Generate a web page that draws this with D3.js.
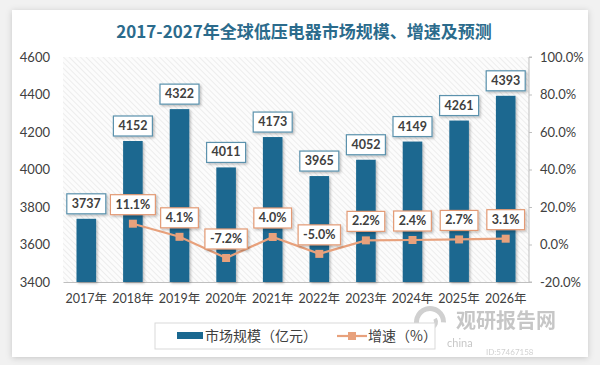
<!DOCTYPE html>
<html>
<head>
<meta charset="utf-8">
<script src="https://cdn.jsdelivr.net/npm/d3@7"></script>
<style>
  body { margin: 0; background: #f1f1f1; }
  svg { display: block; }
  text { font-family: Lato, "Noto Sans CJK SC", sans-serif; }
</style>
</head>
<body>
<div id="chart"></div>
<script>
const width = 600;
const height = 365;

// data
const years = ["2017年", "2018年", "2019年", "2020年", "2021年", "2022年", "2023年", "2024年", "2025年", "2026年"];
const market = [3737, 4152, 4322, 4011, 4173, 3965, 4052, 4149, 4261, 4393];
const growth = [null, 11.1, 4.1, -7.2, 4.0, -5.0, 2.2, 2.4, 2.7, 3.1];
const leftTicks = [3400, 3600, 3800, 4000, 4200, 4400, 4600];
const rightTicks = [-20, 0, 20, 40, 60, 80, 100];

const barColor = "#1a6890";
const lineColor = "#e8a17c";

const plot = { left: 63, right: 529, top: 57, bottom: 282 };

const svg = d3.select("#chart").append("svg")
    .attr("width", width)
    .attr("height", height);

const defs = svg.append("defs");

const pat = defs.append("pattern")
    .attr("id", "hatch")
    .attr("patternUnits", "userSpaceOnUse")
    .attr("width", 4)
    .attr("height", 4)
    .attr("patternTransform", "rotate(-45)");
pat.append("rect").attr("width", 4).attr("height", 4).attr("fill", "#fcfcfc");
pat.append("line")
    .attr("x1", 0).attr("y1", 0).attr("x2", 0).attr("y2", 4)
    .attr("stroke", "#e6e6e6").attr("stroke-width", 1.3);

const shadow = defs.append("filter").attr("id", "shadow")
    .attr("x", "-20%").attr("y", "-20%").attr("width", "140%").attr("height", "140%");
shadow.append("feDropShadow")
    .attr("dx", 1.5).attr("dy", 1.5).attr("stdDeviation", 1)
    .attr("flood-color", "#000").attr("flood-opacity", 0.25);

const cardShadow = defs.append("filter").attr("id", "cardShadow")
    .attr("x", "-5%").attr("y", "-5%").attr("width", "110%").attr("height", "110%");
cardShadow.append("feDropShadow")
    .attr("dx", 0).attr("dy", 1).attr("stdDeviation", 3)
    .attr("flood-color", "#000").attr("flood-opacity", 0.18);

// card
svg.append("rect")
    .attr("x", 12).attr("y", 10)
    .attr("width", 576).attr("height", 347)
    .attr("fill", "#fff")
    .attr("filter", "url(#cardShadow)");

// title
svg.append("text")
    .attr("x", 304).attr("y", 38)
    .attr("text-anchor", "middle")
    .attr("font-size", 17)
    .attr("font-weight", "bold")
    .attr("fill", "#2b6b8c")
    .style("font-family", "'Noto Sans CJK SC', sans-serif")
    .text("2017-2027年全球低压电器市场规模、增速及预测");

// plot background
svg.append("rect")
    .attr("x", plot.left).attr("y", plot.top)
    .attr("width", plot.right - plot.left).attr("height", plot.bottom - plot.top)
    .attr("fill", "url(#hatch)");

const x = d3.scaleBand()
    .domain(years)
    .range([plot.left, plot.right])
    .paddingInner(0.58)
    .paddingOuter(0.29);

const y = d3.scaleLinear()
    .domain([3400, 4600])
    .range([plot.bottom, plot.top]);

const y2 = d3.scaleLinear()
    .domain([-20, 100])
    .range([plot.bottom, plot.top]);

// left axis
const leftAxis = svg.append("g")
    .attr("transform", `translate(${plot.left},0)`)
    .call(d3.axisLeft(y).tickValues(leftTicks).tickSize(0).tickPadding(13)
        .tickFormat(d3.format("d")));
leftAxis.select(".domain").remove();
leftAxis.selectAll("text").attr("font-size", 13).attr("fill", "#404040")
    .style("font-family", "Lato, sans-serif");

// right axis
const rightAxis = svg.append("g")
    .attr("transform", `translate(${plot.right},0)`)
    .call(d3.axisRight(y2).tickValues(rightTicks).tickSize(3).tickPadding(8)
        .tickFormat(d => d.toFixed(1) + "%"));
rightAxis.select(".domain").attr("stroke", "#bfbfbf").attr("d", `M3,${plot.top}H0V${plot.bottom}H3`);
rightAxis.selectAll(".tick line").attr("stroke", "#bfbfbf");
rightAxis.selectAll("text").attr("font-size", 13).attr("fill", "#404040")
    .style("font-family", "Lato, sans-serif");

// bottom axis
const bottomAxis = svg.append("g")
    .attr("transform", `translate(0,${plot.bottom})`)
    .call(d3.axisBottom(x).tickSize(0).tickPadding(12));
bottomAxis.select(".domain").attr("stroke", "#bfbfbf");
bottomAxis.selectAll("text").attr("font-size", 12.5).attr("fill", "#404040");

// bars
svg.append("g").selectAll("rect")
    .data(market)
    .join("rect")
    .attr("x", (d, i) => x(years[i]))
    .attr("y", d => y(d))
    .attr("width", x.bandwidth())
    .attr("height", d => plot.bottom - y(d))
    .attr("fill", barColor)
    .attr("filter", "url(#shadow)");

// growth line
const pts = growth.map((d, i) => ({ year: years[i], v: d })).filter(d => d.v !== null);
const cx = d => x(d.year) + x.bandwidth() / 2;

svg.append("path")
    .datum(pts)
    .attr("fill", "none")
    .attr("stroke", lineColor)
    .attr("stroke-width", 2.2)
    .attr("d", d3.line().x(cx).y(d => y2(d.v)));

svg.append("g").selectAll("rect")
    .data(pts)
    .join("rect")
    .attr("x", d => cx(d) - 4)
    .attr("y", d => y2(d.v) - 4)
    .attr("width", 8)
    .attr("height", 8)
    .attr("fill", lineColor);

// labels with boxes
function boxLabel(g, tx, bottom, str, border) {
    const t = g.append("text")
        .attr("x", tx)
        .attr("y", bottom - 6)
        .attr("text-anchor", "middle")
        .attr("font-size", 12.5)
        .attr("font-weight", "bold")
        .attr("fill", "#404040")
        .style("font-family", "Lato, sans-serif")
        .text(str);
    const bb = t.node().getBBox();
    g.insert("rect", "text")
        .attr("x", bb.x - 5)
        .attr("y", bottom - 20)
        .attr("width", bb.width + 10)
        .attr("height", 20)
        .attr("fill", "#fff")
        .attr("stroke", border)
        .attr("stroke-width", 1.2)
        .attr("filter", "url(#shadow)");
}

market.forEach((d, i) => {
    const g = svg.append("g");
    boxLabel(g, x(years[i]) + x.bandwidth() / 2, y(d) - 5, String(d), "#5b92ad");
});

pts.forEach(d => {
    const g = svg.append("g");
    boxLabel(g, cx(d), y2(d.v) - 9, d.v.toFixed(1) + "%", "#e39a74");
});

// watermark
const wm = svg.append("g").attr("opacity", 0.55);
wm.append("path")
    .attr("d", d3.arc()({ innerRadius: 11, outerRadius: 16, startAngle: -2.2, endAngle: 1.6 }))
    .attr("transform", "translate(430,322)")
    .attr("fill", "#aaa");
wm.append("path")
    .attr("d", d3.arc()({ innerRadius: 4, outerRadius: 8, startAngle: 1.0, endAngle: 4.4 }))
    .attr("transform", "translate(430,322)")
    .attr("fill", "#aaa");
wm.append("text")
    .attr("x", 456).attr("y", 328)
    .attr("font-size", 20).attr("font-weight", "bold")
    .attr("fill", "#999")
    .style("font-family", "'Noto Sans CJK SC', sans-serif")
    .text("观研报告网");
wm.append("text")
    .attr("x", 447).attr("y", 347)
    .attr("font-size", 11).attr("fill", "#999")
    .text("china");
wm.append("text")
    .attr("x", 486).attr("y", 355)
    .attr("font-size", 8).attr("fill", "#aaa")
    .text("ID:57467158");

// legend
const legend = svg.append("g");
legend.append("rect")
    .attr("x", 155).attr("y", 323)
    .attr("width", 280).attr("height", 26)
    .attr("fill", "#fff")
    .attr("stroke", "#d9d9d9");
legend.append("rect")
    .attr("x", 177).attr("y", 332)
    .attr("width", 26).attr("height", 7)
    .attr("fill", barColor);
legend.append("text")
    .attr("x", 205).attr("y", 341)
    .attr("font-size", 14).attr("fill", "#404040")
    .style("font-family", "'Noto Sans CJK SC', sans-serif")
    .text("市场规模（亿元）");
legend.append("line")
    .attr("x1", 337).attr("x2", 367)
    .attr("y1", 336).attr("y2", 336)
    .attr("stroke", lineColor).attr("stroke-width", 2.2);
legend.append("rect")
    .attr("x", 348).attr("y", 332)
    .attr("width", 8).attr("height", 8)
    .attr("fill", lineColor);
legend.append("text")
    .attr("x", 368).attr("y", 341)
    .attr("font-size", 14).attr("fill", "#404040")
    .style("font-family", "'Noto Sans CJK SC', sans-serif")
    .text("增速（%）");
</script>
</body>
</html>
